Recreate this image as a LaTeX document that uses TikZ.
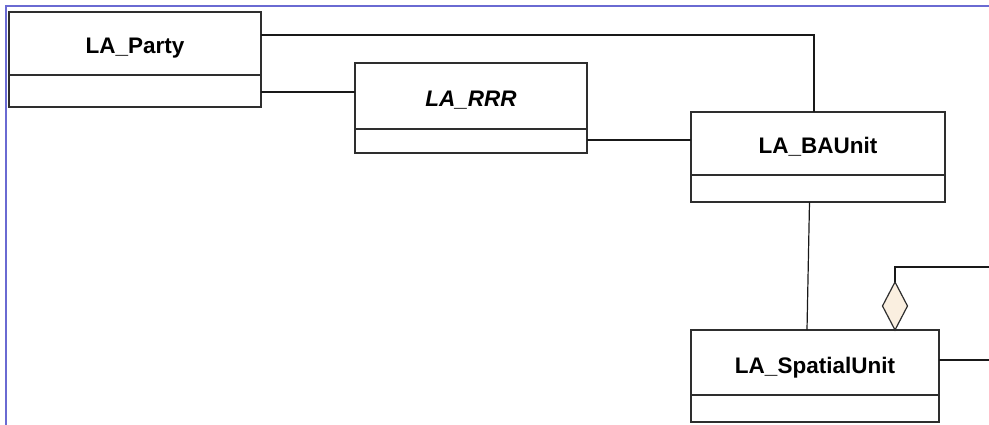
\documentclass[tikz,border=0pt]{standalone}
\usepackage{fontspec}
\setmainfont{Liberation Sans}
\usetikzlibrary{calc,shapes.geometric}
\definecolor{frameblue}{HTML}{6A6AD2}
\definecolor{boxline}{HTML}{2E2E2E}
\definecolor{diafill}{HTML}{FAEFE0}
\tikzset{
  x=1pt,y=-1pt,
  titlebox/.style={draw=boxline, line width=1.3pt, fill=white, inner sep=0pt, outer sep=0pt,
    anchor=north west, font=\fontsize{22.5}{26}\selectfont\bfseries, text=black,
    text height=21pt, text depth=0pt},
  attrbox/.style={draw=boxline, line width=1.3pt, fill=white, inner sep=0pt, outer sep=0pt, anchor=north},
  conn/.style={draw=black!90, line width=1.2pt},
  aggr/.style={shape=diamond, draw=boxline, line width=1.2pt, fill=diafill, inner sep=0pt, outer sep=0pt,
    minimum width=25pt, minimum height=48pt, anchor=south}
}
\begin{document}
\begin{tikzpicture}
\useasboundingbox (0,0) rectangle (989,425);
\draw[frameblue, line width=2pt] (6,6) rectangle (1000,440);

% classes
\node[titlebox, minimum width=252pt, minimum height=63pt] (partyT) at (9,12) {LA\_Party};
\node[attrbox, minimum width=252pt, minimum height=32pt] (partyA) at (partyT.south) {};

\node[titlebox, minimum width=232pt, minimum height=66pt] (rrrT) at (355,63) {\itshape LA\_RRR};
\node[attrbox, minimum width=232pt, minimum height=24pt] (rrrA) at (rrrT.south) {};

\node[titlebox, minimum width=254pt, minimum height=63pt] (baT) at (691,112) {LA\_BAUnit};
\node[attrbox, minimum width=254pt, minimum height=27pt] (baA) at (baT.south) {};

\node[titlebox, minimum width=248pt, minimum height=65pt] (spT) at (691,330) {LA\_SpatialUnit};
\node[attrbox, minimum width=248pt, minimum height=27pt] (spA) at (spT.south) {};

% aggregation diamond
\node[aggr] (dia) at ($(spT.north west)+(204,0)$) {};

% free ends
\coordinate (aggEnd) at (989,267);
\coordinate (spEnd) at (989,360);

% connectors
\draw[conn] ($(partyT.north east)+(0,23)$) -| ($(baT.north west)+(123,0)$);
\draw[conn] ($(partyA.north east)+(0,17)$) -- ($(rrrT.north west)+(0,29)$);
\draw[conn] ($(rrrA.north east)+(0,11)$) -- ($(baT.north west)+(0,28)$);
\draw[conn] ($(baA.south west)+(118.5,0)$) -- ($(spT.north west)+(116,0)$);
\draw[conn] (dia.north) |- (aggEnd);
\draw[conn] ($(spT.north east)+(0,30)$) -- (spEnd);
\end{tikzpicture}
\end{document}
